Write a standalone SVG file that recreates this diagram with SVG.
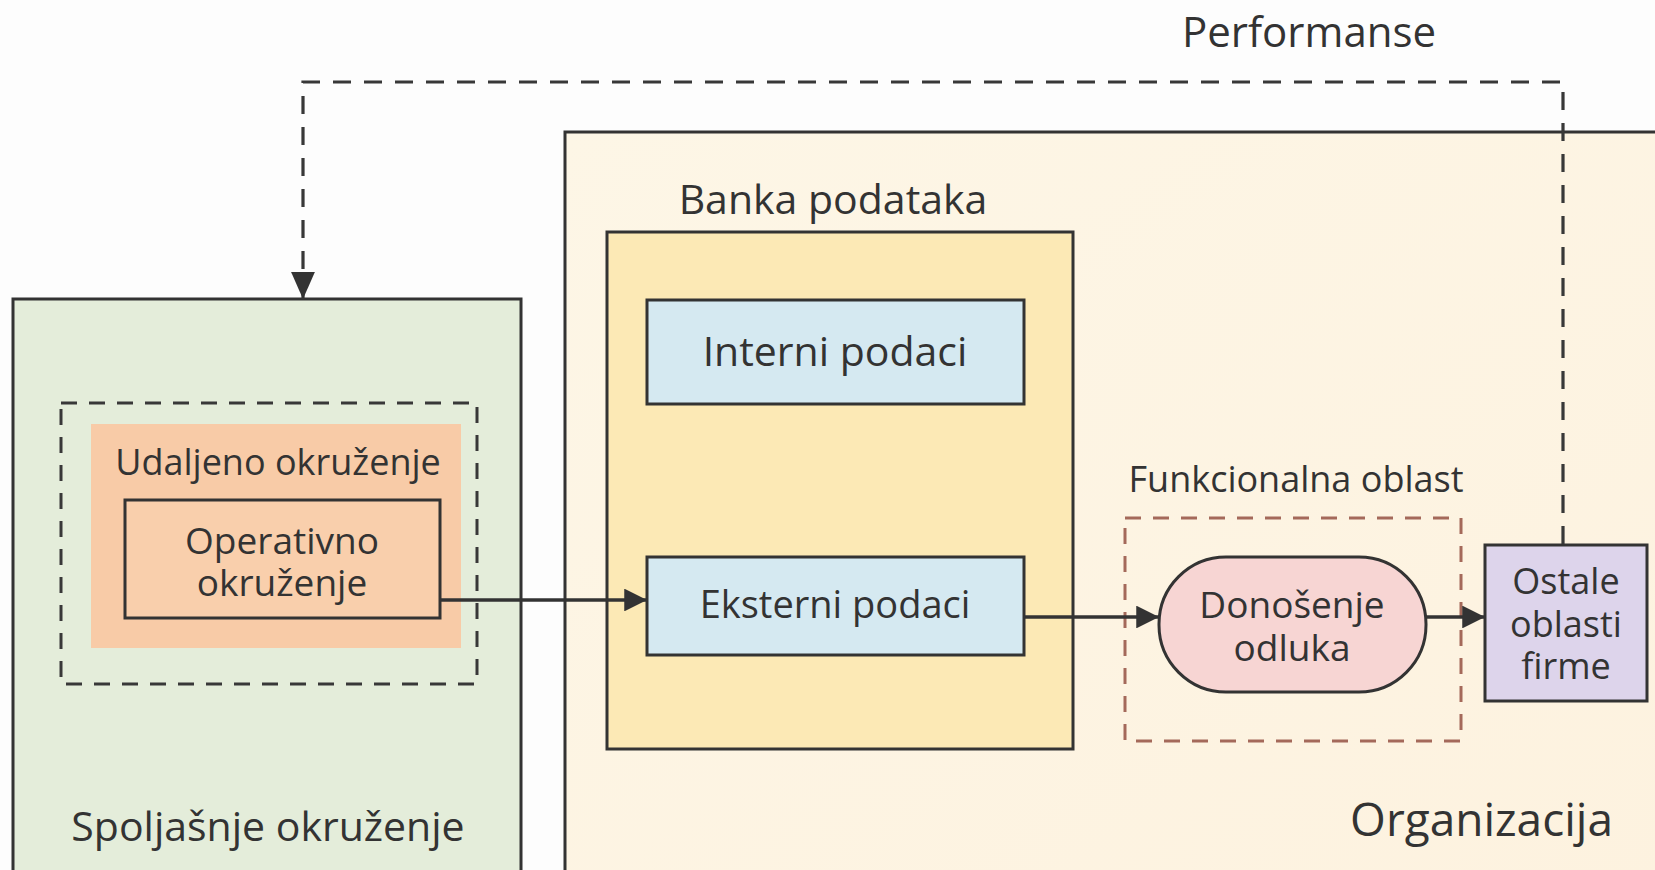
<svg xmlns="http://www.w3.org/2000/svg" width="1655" height="870" viewBox="0 0 1655 870">
<style>
text{font-family:"Open Sans","Noto Sans","DejaVu Sans",sans-serif;fill:#333333}
.box{stroke:#333333;stroke-width:3}
.dash{fill:none;stroke:#383838;stroke-width:3;stroke-dasharray:18 13}
.conn{fill:none;stroke:#333333;stroke-width:3.5}
</style>
<defs>
<marker id="arr" viewBox="0 0 10 10" refX="10" refY="5" markerWidth="6.5" markerHeight="6.5" markerUnits="strokeWidth" orient="auto">
<path d="M0,0 L10,5 L0,10 z" fill="#333333"/>
</marker>
<marker id="arrfb" viewBox="0 0 10 10" refX="10" refY="5" markerWidth="8.5" markerHeight="7.5" markerUnits="strokeWidth" orient="auto" preserveAspectRatio="none">
<path d="M0,0 L10,5 L0,10 z" fill="#333333"/>
</marker>
<linearGradient id="org" x1="0" y1="0" x2="1" y2="1">
<stop offset="0" stop-color="#fdf6e6"/>
<stop offset="1" stop-color="#fdf2df"/>
</linearGradient>
</defs>
<rect width="1655" height="870" fill="#fdfdfd"/>
<g id="organizacija">
<rect class="box" x="565" y="132" width="1100" height="760" fill="url(#org)"/>
<text x="1613" y="836" font-size="46" text-anchor="end">Organizacija</text>
</g>
<g id="spoljasnje">
<rect class="box" x="13" y="299" width="508" height="600" fill="#e4edda"/>
<text x="268" y="841" font-size="41" text-anchor="middle">Spoljašnje okruženje</text>
</g>
<g id="udaljeno">
<rect x="91" y="424" width="370" height="224" fill="#f8cba7"/>
<rect class="dash" x="61" y="403" width="416" height="281" style="stroke-dasharray:16 12"/>
<text x="278" y="475" font-size="36" text-anchor="middle">Udaljeno okruženje</text>
</g>
<g id="operativno">
<rect class="box" x="125" y="500" width="315" height="118" fill="#f9cfac"/>
<text x="282" y="554" font-size="37" text-anchor="middle">Operativno</text>
<text x="282" y="596" font-size="37" text-anchor="middle">okruženje</text>
</g>
<g id="banka">
<rect class="box" x="607" y="232" width="466" height="517" fill="#fce9b5"/>
<text x="833" y="214" font-size="41" text-anchor="middle">Banka podataka</text>
</g>
<g id="interni">
<rect class="box" x="647" y="300" width="377" height="104" fill="#d5e9f1"/>
<text x="835" y="366" font-size="41" text-anchor="middle">Interni podaci</text>
</g>
<g id="eksterni">
<rect class="box" x="647" y="557" width="377" height="98" fill="#d5e9f1"/>
<text x="835" y="618" font-size="38" text-anchor="middle">Eksterni podaci</text>
</g>
<g id="funkcionalna">
<rect x="1125" y="518" width="336" height="223" fill="none" stroke="#a4695a" stroke-width="3" stroke-dasharray="16 12"/>
<text x="1296" y="492" font-size="36" text-anchor="middle">Funkcionalna oblast</text>
</g>
<g id="donosenje">
<rect class="box" x="1159" y="557" width="267" height="135" rx="67" ry="67" fill="#f7d5d3"/>
<text x="1292" y="618" font-size="37" text-anchor="middle">Donošenje</text>
<text x="1292" y="661" font-size="37" text-anchor="middle">odluka</text>
</g>
<g id="ostale">
<rect class="box" x="1485" y="545" width="162" height="156" fill="#ddd4eb"/>
<text x="1566" y="594" font-size="36" text-anchor="middle">Ostale</text>
<text x="1566" y="637" font-size="36" text-anchor="middle">oblasti</text>
<text x="1566" y="679" font-size="36" text-anchor="middle">firme</text>
</g>
<g id="performanse">
<text x="1309" y="47" font-size="42" text-anchor="middle">Performanse</text>
</g>
<g id="connectors">
<path class="dash" d="M1563,544 V82 H303 V299" marker-end="url(#arrfb)" style="stroke-width:3.2"/>
<path class="conn" d="M440,600 H647" marker-end="url(#arr)"/>
<path class="conn" d="M1024,617 H1159" marker-end="url(#arr)"/>
<path class="conn" d="M1426,617 H1485" marker-end="url(#arr)"/>
</g>
</svg>
